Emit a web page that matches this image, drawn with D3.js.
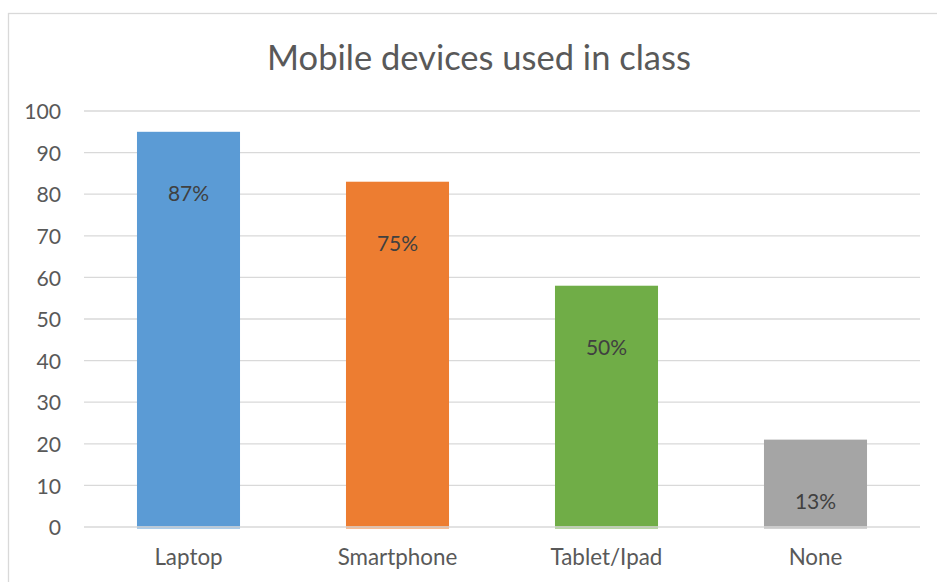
<!DOCTYPE html>
<html>
<head>
<meta charset="utf-8">
<script src="https://cdn.jsdelivr.net/npm/d3@7"></script>
<style>
  html, body { margin: 0; padding: 0; background: #fff; }
  svg { display: block; font-family: Lato, "Open Sans", sans-serif; }
</style>
</head>
<body>
<svg id="chart" width="937" height="582"></svg>
<script>
// Devices used in class: respondent counts and the share each represents
const categories = ["Laptop", "Smartphone", "Tablet/Ipad", "None"];
const counts = [95, 83, 58, 21];
const shareLabels = ["87%", "75%", "50%", "13%"];
const barColors = ["#5B9BD5", "#ED7D31", "#70AD47", "#A5A5A5"];
const yTicks = [0, 10, 20, 30, 40, 50, 60, 70, 80, 90, 100];
const title = "Mobile devices used in class";

const svg = d3.select("#chart");
const W = 937, H = 582;
const plot = { left: 84, right: 920, top: 111, bottom: 527 };
const textColor = "#595959";
const gridColor = "#d9d9d9";

// outer chart frame
svg.append("rect")
  .attr("x", 8.5).attr("y", 13.5)
  .attr("width", W).attr("height", H)
  .attr("fill", "none")
  .attr("stroke", gridColor)
  .attr("stroke-width", 1.3);

const x = d3.scaleBand()
  .domain(categories)
  .range([plot.left, plot.right])
  .paddingInner(0.507)
  .paddingOuter(0.2535);

const y = d3.scaleLinear()
  .domain([0, 100])
  .range([plot.bottom, plot.top]);

// horizontal gridlines
svg.append("g")
  .selectAll("line")
  .data(yTicks.filter(t => t !== 0))
  .join("line")
  .attr("x1", plot.left).attr("x2", plot.right)
  .attr("y1", d => y(d)).attr("y2", d => y(d))
  .attr("stroke", gridColor)
  .attr("stroke-width", 1.3);

// y axis tick labels
const yAxis = d3.axisLeft(y).tickValues(yTicks).tickSize(0).tickPadding(0);
const yg = svg.append("g")
  .attr("transform", `translate(${61},0)`)
  .call(yAxis);
yg.select(".domain").remove();
yg.selectAll("text")
  .attr("fill", textColor)
  .style("font-size", "21.2px")
  .style("font-family", "Lato, 'Open Sans', sans-serif")
  .attr("dy", "0.36em");

// bars
svg.append("g")
  .selectAll("rect")
  .data(categories)
  .join("rect")
  .attr("x", d => x(d))
  .attr("width", x.bandwidth())
  .attr("y", (d, i) => y(counts[i]))
  .attr("height", (d, i) => y(0) - y(counts[i]) + 1.5)
  .attr("fill", (d, i) => barColors[i]);

// baseline drawn over bar bottoms
svg.append("line")
  .attr("x1", plot.left).attr("x2", plot.right)
  .attr("y1", y(0)).attr("y2", y(0))
  .attr("stroke", gridColor)
  .attr("stroke-width", 1.3);

// percentage labels inside bars
svg.append("g")
  .selectAll("text")
  .data(categories)
  .join("text")
  .attr("x", d => x(d) + x.bandwidth() / 2)
  .attr("y", (d, i) => y(counts[i]) + 69)
  .attr("text-anchor", "middle")
  .attr("fill", "#404040")
  .style("font-size", "21px")
  .text((d, i) => shareLabels[i]);

// x axis category labels
const xAxis = d3.axisBottom(x).tickSize(0).tickPadding(0);
const xg = svg.append("g")
  .attr("transform", `translate(0,${565})`)
  .call(xAxis);
xg.select(".domain").remove();
xg.selectAll("text")
  .attr("fill", textColor)
  .attr("dy", 0)
  .style("font-size", "22.4px")
  .style("font-family", "Lato, 'Open Sans', sans-serif");

// chart title
svg.append("text")
  .attr("x", 479)
  .attr("y", 70)
  .attr("text-anchor", "middle")
  .attr("fill", textColor)
  .style("font-size", "34.5px")
  .text(title);
</script>
</body>
</html>
